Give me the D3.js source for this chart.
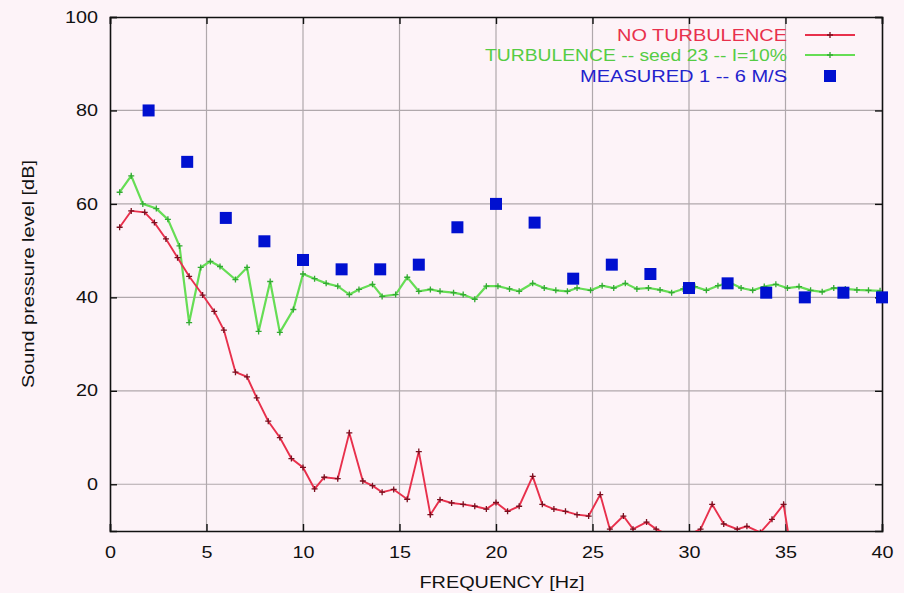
<!DOCTYPE html>
<html>
<head>
<meta charset="utf-8">
<script src="https://cdn.jsdelivr.net/npm/d3@7"></script>
<style>
  html, body { margin: 0; padding: 0; background: #fdf3f8; }
  svg { display: block; }
  text { font-family: "Liberation Sans", Arial, Helvetica, sans-serif; }
</style>
</head>
<body>
<svg id="chart" width="904" height="593"></svg>
<script>
// Spectrum without turbulence (frequency in Hz, level in dB)
const noTurbFreq = [0.5, 1.1, 1.8, 2.3, 2.9, 3.5, 4.1, 4.8, 5.4, 5.9, 6.5, 7.1, 7.6, 8.2, 8.8, 9.4,
  10.0, 10.6, 11.1, 11.8, 12.4, 13.1, 13.6, 14.1, 14.7, 15.4, 16.0, 16.6, 17.1, 17.7, 18.3, 18.9,
  19.5, 20.0, 20.6, 21.2, 21.9, 22.4, 23.0, 23.6, 24.2, 24.8, 25.4, 25.9, 26.6, 27.1, 27.8, 28.3,
  29.0, 29.5, 30.0, 30.6, 31.2, 31.8, 32.5, 33.0, 33.7, 34.3, 34.9, 35.2];
const noTurbLevel = [55, 58.5, 58.2, 56, 52.5, 48.5, 44.5, 40.5, 37, 33, 24, 23, 18.5, 13.5, 10, 5.5,
  3.6, -1, 1.5, 1.2, 11, 0.7, -0.3, -1.7, -1.1, -3.2, 7, -6.5, -3.3, -4, -4.3, -4.7,
  -5.3, -3.9, -5.8, -4.7, 1.7, -4.3, -5.3, -5.8, -6.5, -6.8, -2.2, -9.6, -6.8, -9.6, -8.1, -9.6,
  -11, -11.5, -10.8, -9.6, -4.3, -8.5, -9.6, -9, -10.3, -7.5, -4.3, -12];

// Spectrum with turbulence, seed 23, intensity 10 %
const turbFreq = [0.5, 1.1, 1.7, 2.4, 3.0, 3.6, 4.1, 4.7, 5.2, 5.7, 6.5, 7.1, 7.7, 8.3, 8.8, 9.5,
  10.0, 10.6, 11.2, 11.8, 12.4, 12.9, 13.6, 14.1, 14.8, 15.4, 16.0, 16.6, 17.1, 17.8, 18.3, 18.9,
  19.5, 20.1, 20.7, 21.2, 21.9, 22.5, 23.1, 23.7, 24.2, 24.9, 25.5, 26.1, 26.7, 27.3, 27.9, 28.5,
  29.1, 29.7, 30.3, 30.9, 31.5, 32.1, 32.7, 33.3, 33.9, 34.5, 35.1, 35.7, 36.3, 36.9, 37.5, 38.1,
  38.7, 39.3, 39.9];
const turbLevel = [62.5, 66, 60, 59, 56.7, 51, 34.6, 46.4, 47.7, 46.6, 43.8, 46.4, 32.7, 43.4, 32.5, 37.4,
  45, 44, 43, 42.4, 40.6, 41.7, 42.8, 40.2, 40.6, 44.3, 41.3, 41.7, 41.3, 41, 40.6, 39.6,
  42.4, 42.4, 41.8, 41.3, 43, 42, 41.5, 41.3, 42, 41.5, 42.5, 42, 43, 41.8, 42, 41.6,
  41, 41.8, 42.3, 41.5, 42.5, 43.2, 42, 41.5, 42.3, 42.8, 42, 42.3, 41.5, 41.2, 42, 41.8,
  41.6, 41.5, 41.4];

// Measured levels, wind 1 - 6 m/s
const measuredFreq = [2, 4, 6, 8, 10, 12, 14, 16, 18, 20, 22, 24, 26, 28, 30, 32, 34, 36, 38, 40];
const measuredLevel = [80, 69, 57, 52, 48, 46, 46, 47, 55, 60, 56, 44, 47, 45, 42, 43, 41, 40, 41, 40];

// Axis ticks
const xTicks = [0, 5, 10, 15, 20, 25, 30, 35, 40];
const yTicks = [0, 20, 40, 60, 80, 100];

// Legend entries
const legendLabels = ["NO TURBULENCE", "TURBULENCE -- seed 23 -- I=10%", "MEASURED 1 -- 6 M/S"];

const svg = d3.select("#chart");
const margin = { left: 110, right: 22, top: 17, bottom: 62 };
const W = 904, H = 593;
const x = d3.scaleLinear().domain([0, 40]).range([margin.left, W - margin.right]);
const y = d3.scaleLinear().domain([-10, 100]).range([H - margin.bottom, margin.top]);

const RED = "#e8304c", REDPT = "#7a1020";
const GREEN = "#66dd55", GREENPT = "#33aa33";
const BLUE = "#0010d0";

svg.append("defs").append("clipPath").attr("id", "plotclip")
  .append("rect")
  .attr("x", x(0)).attr("y", y(100))
  .attr("width", x(40) - x(0)).attr("height", y(-10) - y(100));

// grid
const grid = svg.append("g");
grid.selectAll(".gx").data(xTicks.slice(1, -1)).join("line")
  .attr("x1", d => x(d)).attr("x2", d => x(d))
  .attr("y1", y(100)).attr("y2", y(-10))
  .attr("stroke", "#b0a8ac").attr("stroke-width", 1.2);
grid.selectAll(".gy").data(yTicks.slice(0, -1)).join("line")
  .attr("x1", x(0)).attr("x2", x(40))
  .attr("y1", d => y(d)).attr("y2", d => y(d))
  .attr("stroke", "#b0a8ac").attr("stroke-width", 1.2);

// axes with inward ticks on all four sides
const tickLen = 7;
const axB = d3.axisBottom(x).tickValues(xTicks).tickSize(-tickLen).tickPadding(15).tickFormat(d3.format("d"));
const axT = d3.axisTop(x).tickValues(xTicks).tickSize(-tickLen).tickFormat("");
const axL = d3.axisLeft(y).tickValues(yTicks).tickSize(-tickLen).tickPadding(12).tickFormat(d3.format("d"));
const axR = d3.axisRight(y).tickValues(yTicks).tickSize(-tickLen).tickFormat("");

function styleAxis(g) {
  g.select(".domain").attr("stroke", "#111").attr("stroke-width", 1.6);
  g.selectAll(".tick line").attr("stroke", "#111").attr("stroke-width", 1.4);
  g.selectAll(".tick text").attr("fill", "#111").attr("font-size", 16)
    .attr("font-family", "Liberation Sans, Arial, sans-serif");
}
svg.append("g").attr("transform", `translate(0,${y(-10)})`).call(axB).call(styleAxis)
  .selectAll(".tick text").attr("dy", "0.75em");
svg.append("g").attr("transform", `translate(0,${y(100)})`).call(axT).call(styleAxis);
svg.append("g").attr("transform", `translate(${x(0)},0)`).call(axL).call(styleAxis);
svg.append("g").attr("transform", `translate(${x(40)},0)`).call(axR).call(styleAxis);

// widen tick labels a little
svg.selectAll(".tick text").each(function () {
  const t = d3.select(this);
  const s = t.text();
  if (s) t.attr("textLength", s.length * 11).attr("lengthAdjust", "spacingAndGlyphs");
});

// axis titles
svg.append("text")
  .attr("x", (x(0) + x(40)) / 2 + 6).attr("y", 588)
  .attr("text-anchor", "middle").attr("font-size", 16).attr("fill", "#111")
  .attr("textLength", 165).attr("lengthAdjust", "spacingAndGlyphs")
  .text("FREQUENCY [Hz]");
svg.append("text")
  .attr("transform", `translate(34,${(y(100) + y(-10)) / 2}) rotate(-90)`)
  .attr("text-anchor", "middle").attr("font-size", 16).attr("fill", "#111")
  .attr("textLength", 228).attr("lengthAdjust", "spacingAndGlyphs")
  .text("Sound pressure level [dB]");

// series
const plot = svg.append("g").attr("clip-path", "url(#plotclip)");
const line = d3.line().x(d => x(d[0])).y(d => y(d[1]));
const noTurb = noTurbFreq.map((f, i) => [f, noTurbLevel[i]]);
const turb = turbFreq.map((f, i) => [f, turbLevel[i]]);
const measured = measuredFreq.map((f, i) => [f, measuredLevel[i]]);

function plus(g, data, color) {
  g.selectAll(null).data(data).join("path")
    .attr("d", d => `M${x(d[0]) - 3},${y(d[1])}h6M${x(d[0])},${y(d[1]) - 3}v6`)
    .attr("stroke", color).attr("stroke-width", 1.3).attr("fill", "none");
}

plot.append("path").datum(turb).attr("d", line)
  .attr("fill", "none").attr("stroke", GREEN).attr("stroke-width", 2.2);
plus(plot.append("g"), turb, GREENPT);

plot.append("path").datum(noTurb).attr("d", line)
  .attr("fill", "none").attr("stroke", RED).attr("stroke-width", 1.9);
plus(plot.append("g"), noTurb, REDPT);

const sq = 12;
svg.append("g").selectAll("rect").data(measured).join("rect")
  .attr("x", d => x(d[0]) - sq / 2).attr("y", d => y(d[1]) - sq / 2)
  .attr("width", sq).attr("height", sq).attr("fill", BLUE);

// legend
const legTextX = 787, legLineX1 = 805, legLineX2 = 855;
const legRows = [35, 55, 76];
const legColors = [RED, "#55cc44", "#2222cc"];
const legWidths = [170, 302, 207];
legendLabels.forEach((lab, i) => {
  svg.append("text")
    .attr("x", legTextX).attr("y", legRows[i]).attr("dy", "0.36em")
    .attr("text-anchor", "end").attr("font-size", 16).attr("fill", legColors[i])
    .attr("textLength", legWidths[i]).attr("lengthAdjust", "spacingAndGlyphs")
    .text(lab);
});
const cx = (legLineX1 + legLineX2) / 2;
svg.append("line").attr("x1", legLineX1).attr("x2", legLineX2)
  .attr("y1", legRows[0]).attr("y2", legRows[0]).attr("stroke", RED).attr("stroke-width", 1.8);
plus(svg.append("g"), [[x.invert(cx), y.invert(legRows[0])]], REDPT);
svg.append("line").attr("x1", legLineX1).attr("x2", legLineX2)
  .attr("y1", legRows[1]).attr("y2", legRows[1]).attr("stroke", GREEN).attr("stroke-width", 2);
plus(svg.append("g"), [[x.invert(cx), y.invert(legRows[1])]], GREENPT);
svg.append("rect").attr("x", cx - sq / 2).attr("y", legRows[2] - sq / 2)
  .attr("width", sq).attr("height", sq).attr("fill", BLUE);
</script>
</body>
</html>
